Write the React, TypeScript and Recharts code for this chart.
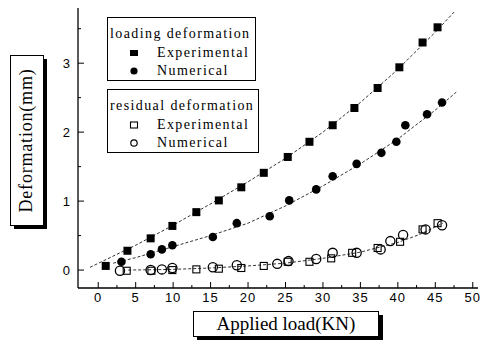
import React from "react";
import { ScatterChart, Scatter, XAxis, YAxis } from "recharts";

// loading deformation, experimental (KN, mm)
const loadExpX = [1.0, 3.9, 7.0, 9.9, 13.1, 16.1, 19.1, 22.1, 25.3, 28.2, 31.3, 34.2, 37.3, 40.2, 43.3, 45.3];
const loadExpY = [0.06, 0.28, 0.46, 0.64, 0.84, 1.01, 1.2, 1.41, 1.64, 1.86, 2.1, 2.35, 2.64, 2.94, 3.3, 3.52];

// loading deformation, numerical
const loadNumX = [3.1, 7.0, 8.5, 9.9, 15.3, 18.5, 22.9, 25.5, 29.1, 31.3, 34.5, 37.8, 39.8, 41.0, 43.9, 45.9];
const loadNumY = [0.12, 0.23, 0.3, 0.36, 0.48, 0.68, 0.78, 1.01, 1.17, 1.36, 1.54, 1.7, 1.86, 2.1, 2.26, 2.43];

// residual deformation, experimental
const resExpX = [3.8, 7.1, 9.9, 13.1, 16.1, 19.1, 22.1, 25.3, 28.2, 31.1, 33.9, 37.3, 40.3, 43.3, 45.3];
const resExpY = [-0.01, -0.01, 0.0, 0.01, 0.02, 0.03, 0.06, 0.12, 0.12, 0.17, 0.25, 0.32, 0.41, 0.59, 0.68];

// residual deformation, numerical
const resNumX = [2.9, 7.0, 8.5, 9.9, 15.3, 18.5, 23.9, 25.4, 29.1, 31.3, 34.5, 37.7, 39.0, 40.7, 43.7, 45.9];
const resNumY = [-0.01, 0.0, 0.01, 0.03, 0.04, 0.07, 0.09, 0.13, 0.16, 0.25, 0.25, 0.3, 0.42, 0.51, 0.59, 0.65];

// fitted curves
const fitLoadExpX = [-1.1, 5, 10, 15, 20, 25, 30, 35, 40, 45, 47.5];
const fitLoadExpY = [0.04, 0.36, 0.65, 0.96, 1.28, 1.62, 2.0, 2.43, 2.91, 3.45, 3.74];
const fitLoadNumX = [2, 5, 10, 15, 20, 25, 30, 35, 40, 45, 47.8];
const fitLoadNumY = [0.1, 0.18, 0.34, 0.5, 0.68, 0.93, 1.22, 1.54, 1.9, 2.32, 2.58];
const fitResX = [4, 10, 15, 20, 25, 30, 35, 40, 43, 46];
const fitResY = [0.0, 0.01, 0.03, 0.06, 0.1, 0.17, 0.26, 0.4, 0.52, 0.68];

const xTicks = [0, 2.5, 5, 7.5, 10, 12.5, 15, 17.5, 20, 22.5, 25, 27.5, 30, 32.5, 35, 37.5, 40, 42.5, 45, 47.5, 50];
const yTicks = [0, 0.5, 1, 1.5, 2, 2.5, 3, 3.5];

const zip = (xs: number[], ys: number[]) => xs.map((x, i) => ({ x, y: ys[i] }));

const SERIF = "'Liberation Serif', 'DejaVu Serif', serif";
const SANS = "'Liberation Sans', Arial, sans-serif";

const FilledSquare = (p: any) => <rect x={p.cx - 4} y={p.cy - 4} width={8} height={8} fill="#000" />;
const FilledCircle = (p: any) => <circle cx={p.cx} cy={p.cy} r={4.3} fill="#000" />;
const OpenSquare = (p: any) => (
  <rect x={p.cx - 3.5} y={p.cy - 3.5} width={7} height={7} fill="none" stroke="#000" strokeWidth={1.1} />
);
const OpenCircle = (p: any) => <circle cx={p.cx} cy={p.cy} r={4.6} fill="none" stroke="#000" strokeWidth={1.3} />;
const NoDot = () => null;

const XTick = (p: any) => {
  const v = p.payload.value;
  const major = v % 5 === 0;
  return (
    <g>
      <line x1={p.x} x2={p.x} y1={p.y} y2={p.y - (major ? 6 : 3)} stroke="#000" />
      {major && (
        <text x={p.x} y={p.y + 14} textAnchor="middle" fontFamily={SANS} fontSize={13} letterSpacing={1} fill="#000">
          {v}
        </text>
      )}
    </g>
  );
};

const YTick = (p: any) => {
  const v = p.payload.value;
  const major = v % 1 === 0;
  return (
    <g>
      <line x1={p.x} x2={p.x + (major ? 6 : 3)} y1={p.y} y2={p.y} stroke="#000" />
      {major && (
        <text x={p.x - 8} y={p.y + 5} textAnchor="end" fontFamily={SANS} fontSize={13} fill="#000">
          {v}
        </text>
      )}
    </g>
  );
};

const fitLine = { stroke: "#000", strokeWidth: 0.8, strokeDasharray: "3 2" };

const legendText: React.CSSProperties = {
  position: "absolute",
  fontFamily: SERIF,
  fontSize: 14,
  letterSpacing: 1.4,
  lineHeight: "14px",
  whiteSpace: "nowrap",
};

function LegendBox({ top, height, width, title, exp, num }: any) {
  return (
    <div
      style={{
        position: "absolute",
        left: 107,
        top,
        width,
        height,
        border: "1px solid #000",
        background: "#fff",
      }}
    >
      <span style={{ ...legendText, left: 2, top: 9 }}>{title}</span>
      <svg style={{ position: "absolute", left: 0, top: 0 }} width={width} height={height}>
        {exp}
        {num}
      </svg>
      <span style={{ ...legendText, left: 49, top: 28 }}>Experimental</span>
      <span style={{ ...legendText, left: 49, top: 46 }}>Numerical</span>
    </div>
  );
}

export default function App() {
  return (
    <div style={{ position: "absolute", left: 0, top: 0, width: 487, height: 345, background: "#fff" }}>
      <ScatterChart width={487} height={345} margin={{ top: 8, right: 9, bottom: 27, left: 40 }}>
        <XAxis
          xAxisId={0}
          type="number"
          dataKey="x"
          domain={[-2.7, 50.7]}
          ticks={xTicks}
          interval={0}
          tickSize={0}
          tickMargin={0}
          tick={<XTick />}
          tickLine={false}
          height={30}
          axisLine={{ stroke: "#000", strokeWidth: 1.3 }}
          allowDataOverflow
        />
        <XAxis
          xAxisId="top"
          orientation="top"
          type="number"
          dataKey="x"
          domain={[-2.7, 50.7]}
          tick={false}
          tickLine={false}
          height={0}
          axisLine={{ stroke: "#000", strokeWidth: 1.3 }}
        />
        <YAxis
          yAxisId={0}
          type="number"
          dataKey="y"
          domain={[-0.26, 3.8]}
          ticks={yTicks}
          interval={0}
          tickSize={0}
          tickMargin={0}
          tick={<YTick />}
          tickLine={false}
          width={38}
          axisLine={{ stroke: "#000", strokeWidth: 1.3 }}
          allowDataOverflow
        />
        <YAxis
          yAxisId="right"
          orientation="right"
          type="number"
          dataKey="y"
          domain={[-0.26, 3.8]}
          tick={false}
          tickLine={false}
          width={0}
          axisLine={{ stroke: "#000", strokeWidth: 1.3 }}
        />
        <Scatter data={zip(fitLoadExpX, fitLoadExpY)} line={fitLine} shape={<NoDot />} isAnimationActive={false} />
        <Scatter data={zip(fitLoadNumX, fitLoadNumY)} line={fitLine} shape={<NoDot />} isAnimationActive={false} />
        <Scatter data={zip(fitResX, fitResY)} line={fitLine} shape={<NoDot />} isAnimationActive={false} />
        <Scatter data={zip(loadExpX, loadExpY)} shape={<FilledSquare />} isAnimationActive={false} />
        <Scatter data={zip(loadNumX, loadNumY)} shape={<FilledCircle />} isAnimationActive={false} />
        <Scatter data={zip(resExpX, resExpY)} shape={<OpenSquare />} isAnimationActive={false} />
        <Scatter data={zip(resNumX, resNumY)} shape={<OpenCircle />} isAnimationActive={false} />
      </ScatterChart>

      <LegendBox
        top={17}
        width={147}
        height={62}
        title="loading deformation"
        exp={<rect x={22} y={32} width={8} height={6} fill="#000" />}
        num={<circle cx={26} cy={53} r={3.6} fill="#000" />}
      />
      <LegendBox
        top={89}
        width={150}
        height={62}
        title="residual deformation"
        exp={<rect x={22.5} y={32} width={7} height={6} fill="none" stroke="#000" strokeWidth={1.1} />}
        num={<circle cx={26} cy={53} r={3.2} fill="none" stroke="#000" strokeWidth={1.2} />}
      />

      {/* y axis title box with shadow */}
      <div style={{ position: "absolute", left: 14, top: 59, width: 33, height: 170, background: "#000" }} />
      <div
        style={{
          position: "absolute",
          left: 10,
          top: 55,
          width: 32,
          height: 169,
          border: "1px solid #000",
          background: "#fff",
          display: "flex",
          alignItems: "center",
          justifyContent: "center",
        }}
      >
        <span
          style={{
            transform: "rotate(-90deg)",
            fontFamily: SERIF,
            fontSize: 18,
            letterSpacing: 0.8,
            whiteSpace: "nowrap",
          }}
        >
          Deformation(mm)
        </span>
      </div>

      {/* x axis title box with shadow */}
      <div style={{ position: "absolute", left: 197, top: 315, width: 186, height: 25, background: "#000" }} />
      <div
        style={{
          position: "absolute",
          left: 193,
          top: 311,
          width: 184,
          height: 24,
          border: "1px solid #000",
          background: "#fff",
          display: "flex",
          alignItems: "center",
          justifyContent: "center",
          fontFamily: SERIF,
          fontSize: 19,
          lineHeight: "24px",
          whiteSpace: "nowrap",
        }}
      >
        Applied load(KN)
      </div>
    </div>
  );
}
